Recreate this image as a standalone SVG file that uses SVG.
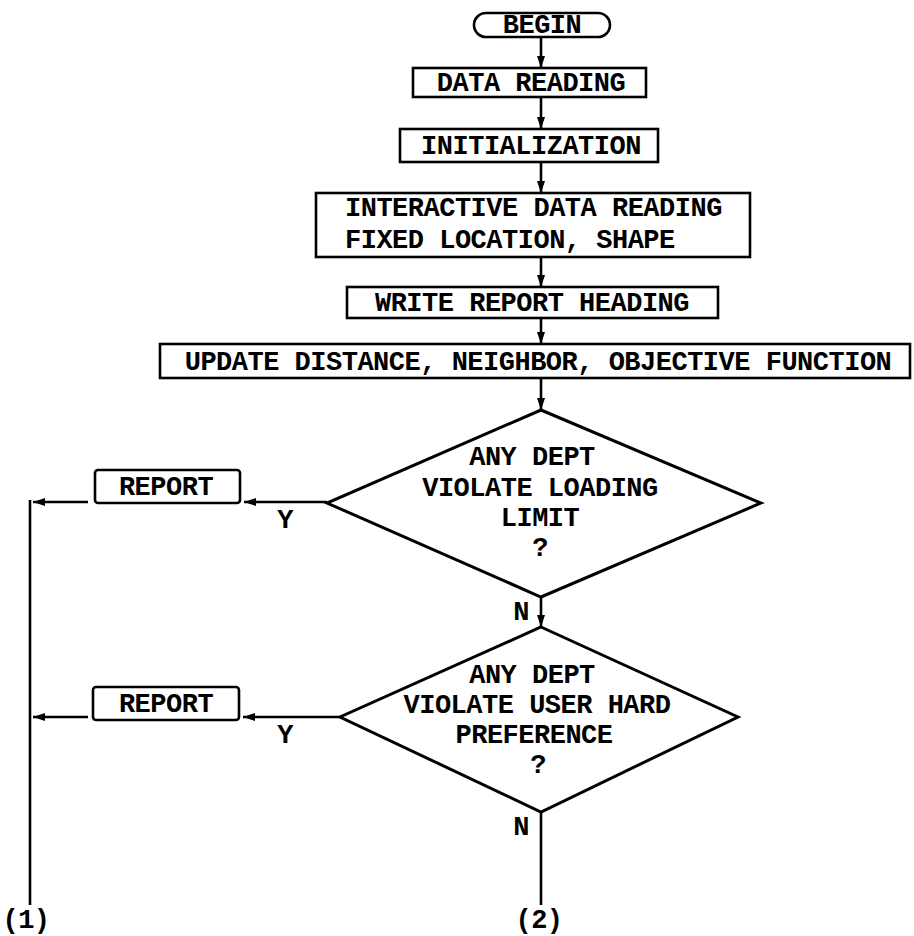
<svg xmlns="http://www.w3.org/2000/svg" width="914" height="936" viewBox="0 0 914 936">
<style>
text{font-family:"Liberation Mono","Courier New",monospace;font-weight:bold;font-size:27px;letter-spacing:-0.5px;fill:#000;text-anchor:middle}
.box{fill:#fff;stroke:#000;stroke-width:2.6}
.dia{fill:#fff;stroke:#000;stroke-width:3}
.ln{fill:none;stroke:#000;stroke-width:2.6}
</style>
<defs>
<marker id="ah" viewBox="0 0 12 10" refX="12" refY="5" markerWidth="12" markerHeight="10" markerUnits="userSpaceOnUse" orient="auto">
<path d="M0,1 L12,5 L0,9 z" fill="#000"/>
</marker>
</defs>
<rect width="914" height="936" fill="#fff"/>
<g id="connectors">
<line class="ln" x1="541" y1="37" x2="541" y2="68" marker-end="url(#ah)"/>
<line class="ln" x1="541" y1="97" x2="541" y2="129" marker-end="url(#ah)"/>
<line class="ln" x1="541" y1="162" x2="541" y2="193" marker-end="url(#ah)"/>
<line class="ln" x1="541" y1="257" x2="541" y2="287" marker-end="url(#ah)"/>
<line class="ln" x1="541" y1="318" x2="541" y2="344" marker-end="url(#ah)"/>
<line class="ln" x1="541" y1="378" x2="541" y2="410" marker-end="url(#ah)"/>
<line class="ln" x1="541" y1="597" x2="541" y2="627" marker-end="url(#ah)"/>
<line class="ln" x1="541" y1="812" x2="541" y2="905"/>
<line class="ln" x1="327" y1="502" x2="244" y2="502" marker-end="url(#ah)"/>
<line class="ln" x1="88" y1="502" x2="33" y2="502" marker-end="url(#ah)"/>
<line class="ln" x1="340" y1="717" x2="243" y2="717" marker-end="url(#ah)"/>
<line class="ln" x1="88" y1="717" x2="33" y2="717" marker-end="url(#ah)"/>
<line class="ln" x1="30" y1="500" x2="30" y2="905"/>
</g>
<g id="begin">
<rect class="box" x="474" y="13" width="136" height="24" rx="12" ry="12"/>
<text x="542" y="33">BEGIN</text>
</g>
<g id="data-reading">
<rect class="box" x="413" y="68" width="233" height="29"/>
<text x="531" y="91">DATA READING</text>
</g>
<g id="initialization">
<rect class="box" x="400" y="129" width="258" height="33"/>
<text x="531" y="154">INITIALIZATION</text>
</g>
<g id="interactive">
<rect class="box" x="316" y="193" width="434" height="64"/>
<text x="345" y="216" style="text-anchor:start">INTERACTIVE DATA READING</text>
<text x="345" y="248" style="text-anchor:start">FIXED LOCATION, SHAPE</text>
</g>
<g id="write-report">
<rect class="box" x="347" y="287" width="371" height="31"/>
<text x="532" y="311">WRITE REPORT HEADING</text>
</g>
<g id="update">
<rect class="box" x="160" y="344" width="750" height="34"/>
<text x="538" y="370">UPDATE DISTANCE, NEIGHBOR, OBJECTIVE FUNCTION</text>
</g>
<g id="decision1">
<polygon class="dia" points="541,410 761,503 541,597 327,503"/>
<text x="532" y="465">ANY DEPT</text>
<text x="540" y="496">VIOLATE LOADING</text>
<text x="540" y="526">LIMIT</text>
<text x="540" y="556">?</text>
</g>
<g id="report1">
<rect class="box" x="95" y="470" width="145" height="33" rx="3" ry="3"/>
<text x="166" y="495">REPORT</text>
</g>
<g id="decision2">
<polygon class="dia" points="541,627 738,717 541,812 340,717"/>
<text x="532" y="683">ANY DEPT</text>
<text x="537" y="713">VIOLATE USER HARD</text>
<text x="534" y="743">PREFERENCE</text>
<text x="538" y="773">?</text>
</g>
<g id="report2">
<rect class="box" x="93" y="687" width="146" height="33" rx="3" ry="3"/>
<text x="166" y="712">REPORT</text>
</g>
<g id="labels">
<text x="285" y="528">Y</text>
<text x="285" y="743">Y</text>
<text x="521" y="620">N</text>
<text x="521" y="835">N</text>
<text x="26" y="928">(1)</text>
<text x="539" y="928">(2)</text>
</g>
</svg>
